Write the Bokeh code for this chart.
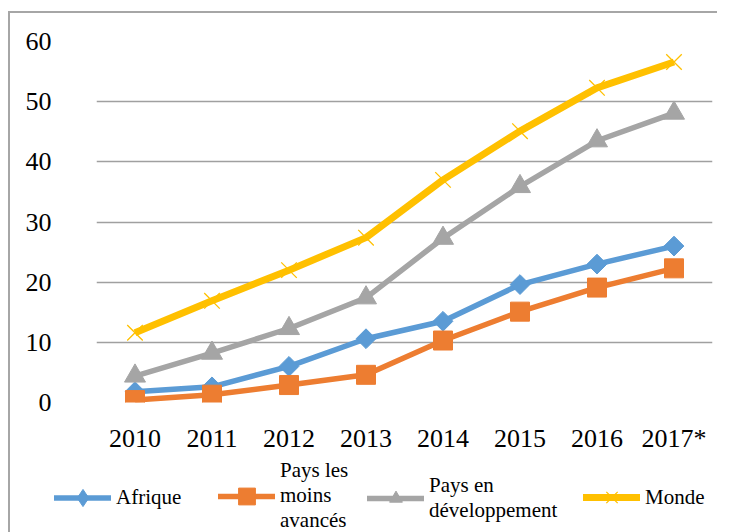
from bokeh.plotting import figure
from bokeh.models import FactorRange, Range1d, FixedTicker, Legend, LegendItem
from bokeh.layouts import column
from bokeh.embed import file_html
from bokeh.resources import INLINE
import math

years = ["2010", "2011", "2012", "2013", "2014", "2015", "2016", "2017*"]
afrique = [1.8, 2.6, 6.0, 10.6, 13.5, 19.6, 23.0, 26.0]
pma = [0.4, 1.3, 2.9, 4.6, 10.3, 15.1, 19.1, 22.3]
pays_dev = [4.4, 8.2, 12.3, 17.4, 27.3, 35.9, 43.5, 48.1]
monde = [11.6, 16.9, 22.0, 27.4, 37.0, 45.1, 52.3, 56.6]
y_ticks = [0, 10, 20, 30, 40, 50, 60]

FONT = "Liberation Serif"

p = figure(width=707, height=442, x_range=FactorRange(*years, range_padding=0),
           y_range=Range1d(0, 60), output_backend="svg", toolbar_location=None,
           min_border_left=86, min_border_right=5, min_border_top=28, min_border_bottom=45)
p.frame_align = False
p.outline_line_color = None
p.background_fill_color = "white"
p.border_fill_color = "white"

p.xgrid.grid_line_color = None
p.ygrid.grid_line_color = "#a0a0a0"
p.ygrid.grid_line_width = 1.5
p.yaxis.ticker = FixedTicker(ticks=y_ticks)

for ax in (p.xaxis, p.yaxis):
    ax.axis_line_color = None
    ax.major_tick_line_color = None
    ax.minor_tick_line_color = None
    ax.major_label_text_font = FONT
    ax.major_label_text_font_size = "26px"
    ax.major_label_text_color = "black"
p.yaxis.major_label_standoff = 39
p.xaxis.major_label_standoff = 15

# legend strip (its own frame spans the whole strip)
q = figure(width=707, height=77, x_range=Range1d(0, 1), y_range=Range1d(0, 1),
           output_backend="svg", toolbar_location=None,
           x_axis_location=None, y_axis_location=None,
           min_border_left=0, min_border_right=0, min_border_top=0, min_border_bottom=0)
q.frame_align = False
q.outline_line_color = None
q.grid.visible = False

series = [
    # name, values, color, line width, marker, size, angle, legend marker, legend glyph height, legend x, legend y
    ("Afrique", afrique, "#5B9BD5", 5.5, "square", 14, math.pi / 4, "diamond", 43, 44, 13),
    ("Pays les\nmoins\navancés", pma, "#ED7D31", 5.5, "square", 19, 0, "square", 42, 208, -1),
    ("Pays en\ndéveloppement", pays_dev, "#A5A5A5", 5.5, "triangle", 21, 0, "triangle", 32, 357, 9),
    ("Monde", monde, "#FFC000", 7, "x", 22, 0, "x", 40, 573, 15),
]

for name, vals, color, lw, marker, size, ang, lmarker, gh, lx, ly in series:
    p.line(years, vals, line_color=color, line_width=lw, line_join="round")
    if marker == "x":
        p.scatter(years, vals, marker="x", size=size, line_color=color, line_width=1.3)
    else:
        p.scatter(years, vals, marker=marker, size=size, angle=ang,
                  fill_color=color, line_color=color, line_width=1)
    # key glyphs: one point outside the strip's ranges, used only for the legend
    dl = q.line(x=[-10, -9], y=[-10, -10], line_color=color, line_width=lw, line_cap="round")
    if lmarker == "x":
        ds = q.scatter(x=[-10], y=[-10], marker="x", line_color=color, line_width=1.3)
    else:
        ds = q.scatter(x=[-10], y=[-10], marker=lmarker, fill_color=color, line_color=color)
    leg = Legend(items=[LegendItem(label=name, renderers=[dl, ds])],
                 location=(lx, ly), label_text_font=FONT, label_text_font_size="21px",
                 label_text_line_height=1.24, label_text_color="black",
                 glyph_width=57, glyph_height=gh, label_standoff=5,
                 padding=0, margin=0, spacing=0,
                 border_line_color=None, background_fill_alpha=0)
    q.add_layout(leg, "center")

layout = column(p, q, spacing=0,
                styles={"margin-left": "8px", "margin-top": "11px",
                        "border-left": "2px solid #a6a6a6", "border-top": "2px solid #a6a6a6"})

open("out.html", "w").write(file_html(layout, INLINE))
